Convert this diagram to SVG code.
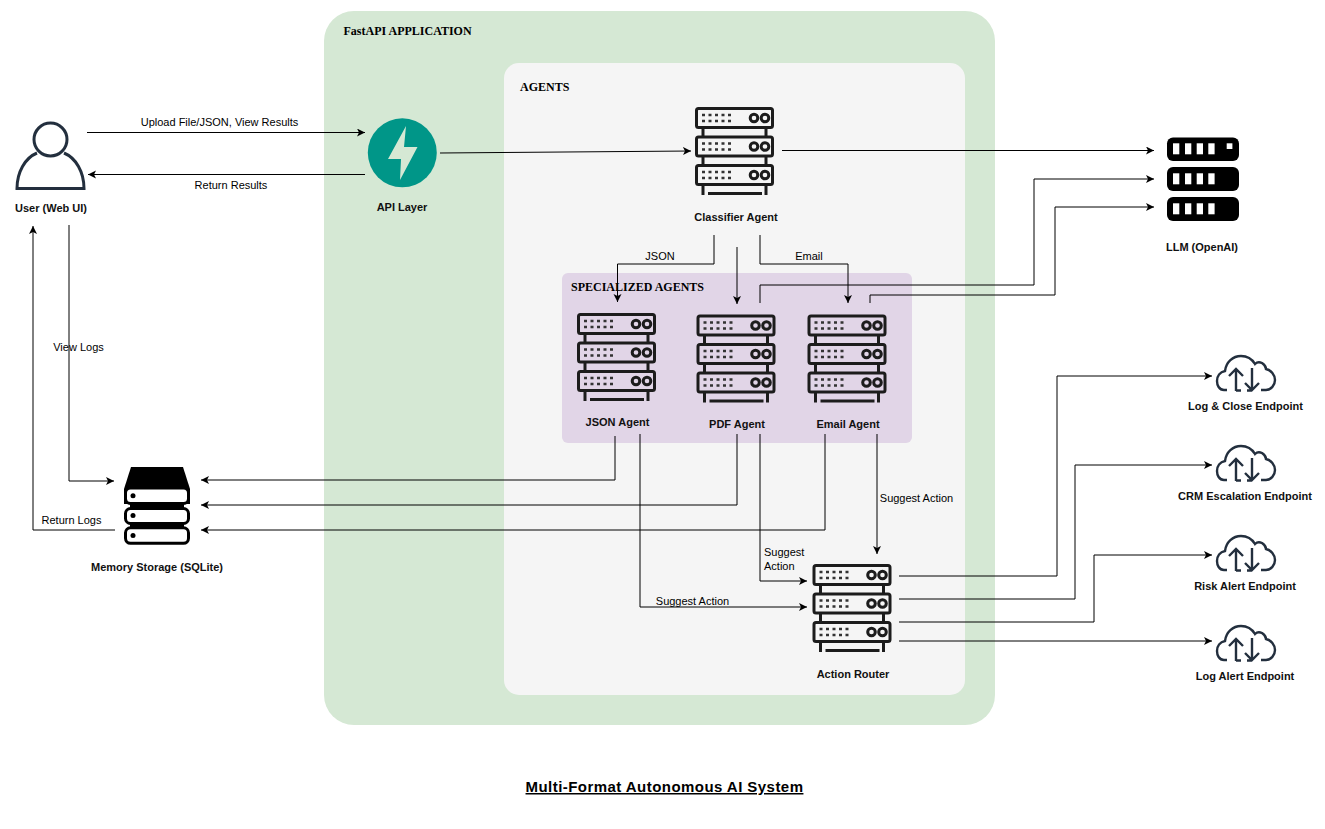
<svg xmlns="http://www.w3.org/2000/svg" width="1325" height="829" viewBox="0 0 1325 829">
<style>
text{font-family:"Liberation Sans",Arial,sans-serif;font-size:11px;fill:#000}
.n{font-weight:bold;text-anchor:middle;fill:#111}
.m{text-anchor:middle}
.h{font-family:"Liberation Serif","Times New Roman",serif;font-weight:bold;font-size:12px}
.c path{fill:none;stroke:#000;stroke-width:1;marker-end:url(#a)}
</style>
<defs>
<marker id="a" markerUnits="userSpaceOnUse" markerWidth="10" markerHeight="10" refX="8" refY="4" orient="auto"><path d="M0 0L8 4L0 8L2 4Z" fill="#000"/></marker>
<g id="srv">
<g fill="none" stroke="#1c1c1c" stroke-width="3">
<rect x="1.500" y="1.500" width="76" height="19" rx="2"/>
<rect x="1.500" y="30" width="76" height="19" rx="2"/>
<rect x="1.500" y="58.500" width="76" height="19" rx="2"/>
<path d="M8 21V30M71 21V30M8 50V58M71 50V58M8 78V88M71 78V88"/>
<path d="M13 86.500H67" stroke-width="2.800"/>
<circle cx="59" cy="11" r="3.800"/><circle cx="71" cy="11" r="3.800" transform="translate(-1 0)"/>
<circle cx="59" cy="39.500" r="3.800"/><circle cx="70" cy="39.500" r="3.800"/>
<circle cx="59" cy="68" r="3.800"/><circle cx="70" cy="68" r="3.800"/>
</g>
<g fill="none" stroke="#333" stroke-width="2.400" stroke-dasharray="3 3.500">
<path d="M7 8H36M7 14H36M7 36.500H36M7 42.500H36M7 65H36M7 71H36"/>
</g>
</g>
<g id="cloud" fill="none" stroke="#232f3e" stroke-width="2.400">
<path d="M11 36H8C3 36 1 31 1 27C1 22 4 18 9 17C10 8 17 2 25 2C31 2 36 5 39 10C41 8 44 8 46 9C49 11 50 13 50 15C55 16 59 21 59 26C59 31 55 36 50 36H45"/>
<path d="M20 37V15M13 22L20 15L27 22M36 14V36M29 29L36 36L43 29M20 36.500H25M31 36.500H36"/>
</g>
</defs>

<rect id="app-bg" x="324" y="11" width="671" height="714" rx="30" fill="#d5e8d4"/>
<rect id="agents-bg" x="504" y="63" width="461" height="632" rx="15" fill="#f5f5f5"/>
<rect id="spec-bg" x="562" y="273" width="350" height="170" rx="6" fill="#e1d5e7"/>
<text class="h" x="343.500" y="35">FastAPI APPLICATION</text>
<text class="h" x="520" y="91">AGENTS</text>
<text class="h" x="571" y="291">SPECIALIZED AGENTS</text>

<g class="c" id="connectors">
<path d="M87 132.500H365"/>
<path d="M365 174.500H88"/>
<path d="M440 153L691 151"/>
<path d="M782 150.500H1154"/>
<path d="M714 235V264H617.500V302"/>
<path d="M737 247V304"/>
<path d="M760 235V264H848V303"/>
<path d="M760 303V285H1034V179H1154"/>
<path d="M870 303V295H1055V207H1154"/>
<path d="M69 225V481H114"/>
<path d="M115 530H33V226"/>
<path d="M615 436V480H201"/>
<path d="M737 434V505H201"/>
<path d="M825 434V530H201"/>
<path d="M640 434V607H807"/>
<path d="M760 434V581H807"/>
<path d="M877 434V554"/>
<path d="M899 576H1057V376H1212"/>
<path d="M899 599H1075V465H1212"/>
<path d="M899 622H1094V555H1212"/>
<path d="M899 641H1212"/>
</g>
<g id="edge-labels">
<text class="m" x="219.500" y="126">Upload File/JSON, View Results</text>
<text class="m" x="231" y="189">Return Results</text>
<text class="m" x="660" y="260">JSON</text>
<text class="m" x="809" y="260">Email</text>
<text class="m" x="78.500" y="351">View Logs</text>
<text class="m" x="71.500" y="524">Return Logs</text>
<text class="m" x="916.500" y="502">Suggest Action</text>
<text x="764" y="556">Suggest</text>
<text x="764" y="570">Action</text>
<text class="m" x="692.500" y="605">Suggest Action</text>
</g>

<g id="user">
<g fill="none" stroke="#232f3e" stroke-width="3">
<circle cx="50.500" cy="139.500" r="16.500"/>
<path d="M37 153C25 158 17 172 17 188.500H84C84 172 76 158 64 153"/>
</g>
<text class="n" x="51" y="212">User (Web UI)</text>
</g>
<g id="api">
<circle cx="402.300" cy="152.800" r="34.500" fill="#009688"/>
<path d="M406 126L388 159H401L400 180L417.500 147H404Z" fill="#d5e8d4"/>
<text class="n" x="402" y="211">API Layer</text>
</g>
<g id="classifier"><use href="#srv" x="695" y="107"/><text class="n" x="736" y="221">Classifier Agent</text></g>
<g id="llm">
<rect x="1167" y="137.500" width="72" height="23.500" rx="6" fill="#000"/>
<rect x="1167" y="167" width="72" height="24" rx="6" fill="#000"/>
<rect x="1167" y="197" width="72" height="24" rx="6" fill="#000"/>
<g fill="#fff">
<rect x="1173" y="143.300" width="6.300" height="11"/><rect x="1185" y="143.300" width="6.300" height="11"/><rect x="1196.700" y="143.300" width="6.300" height="11"/><rect x="1208.300" y="143.300" width="6.300" height="11"/><rect x="1226.700" y="143.300" width="5.700" height="5.700"/>
<rect x="1173" y="173.300" width="6.300" height="11"/><rect x="1185" y="173.300" width="6.300" height="11"/><rect x="1196.700" y="173.300" width="6.300" height="11"/><rect x="1208.300" y="173.300" width="6.300" height="11"/>
<rect x="1173" y="203.300" width="6.300" height="11"/><rect x="1185" y="203.300" width="6.300" height="11"/><rect x="1196.700" y="203.300" width="6.300" height="11"/><rect x="1208.300" y="203.300" width="6.300" height="11"/>
</g>
<text class="n" x="1202" y="251">LLM (OpenAI)</text>
</g>
<g id="json-agent"><use href="#srv" x="577" y="313"/><text class="n" x="617.500" y="426">JSON Agent</text></g>
<g id="pdf-agent"><use href="#srv" x="696.500" y="314.500"/><text class="n" x="737" y="428">PDF Agent</text></g>
<g id="email-agent"><use href="#srv" x="807.500" y="314.500"/><text class="n" x="848" y="428">Email Agent</text></g>
<g id="router"><use href="#srv" x="812.500" y="564"/><text class="n" x="853" y="678">Action Router</text></g>
<g id="memory">
<path d="M124 489L131 467H183L190 489V504H124Z" fill="#000"/>
<rect x="130" y="500" width="54" height="32" fill="#000"/>
<rect x="125.500" y="488" width="63" height="15.500" rx="5" fill="#fff" stroke="#000" stroke-width="3"/>
<rect x="125.500" y="508.500" width="63" height="15" rx="5" fill="#fff" stroke="#000" stroke-width="3"/>
<rect x="125.500" y="527.800" width="63" height="15.500" rx="5" fill="#fff" stroke="#000" stroke-width="3"/>
<circle cx="133" cy="495.700" r="2.500"/><circle cx="133" cy="515.500" r="2.500"/><circle cx="133" cy="535.500" r="2.500"/>
<text class="n" x="157" y="571">Memory Storage (SQLite)</text>
</g>
<g id="ep-log-close"><use href="#cloud" x="1216" y="354"/><text class="n" x="1245.500" y="410">Log &amp; Close Endpoint</text></g>
<g id="ep-crm"><use href="#cloud" x="1216" y="444"/><text class="n" x="1245" y="500">CRM Escalation Endpoint</text></g>
<g id="ep-risk"><use href="#cloud" x="1216" y="534"/><text class="n" x="1245" y="590">Risk Alert Endpoint</text></g>
<g id="ep-log-alert"><use href="#cloud" x="1216" y="624"/><text class="n" x="1245" y="680">Log Alert Endpoint</text></g>
<text id="title" x="664.500" y="792" text-anchor="middle" style="font-size:15px;letter-spacing:.45px;font-weight:bold;text-decoration:underline">Multi-Format Autonomous AI System</text>
</svg>
